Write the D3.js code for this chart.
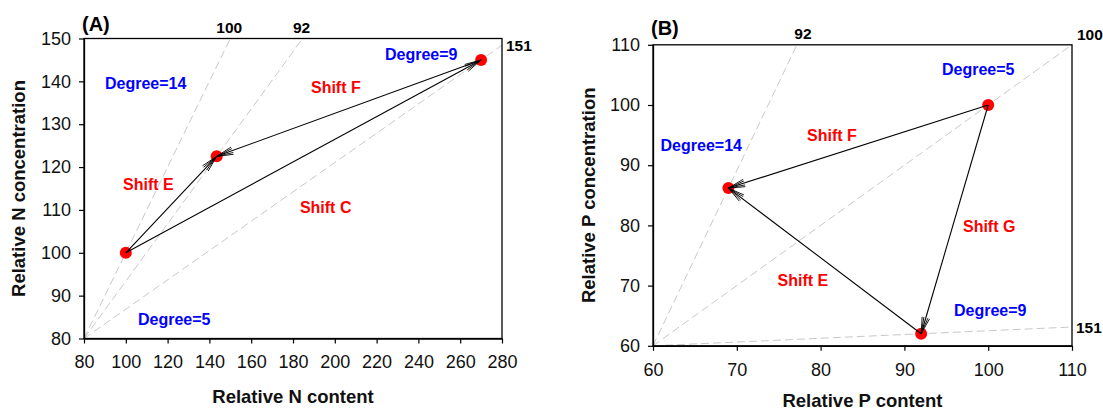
<!DOCTYPE html>
<html>
<head>
<meta charset="utf-8">
<script src="https://cdn.jsdelivr.net/npm/d3@7"></script>
<style>
  html, body { margin: 0; padding: 0; background: #fff; }
  svg { display: block; font-family: "Liberation Sans", Arial, sans-serif; }
</style>
</head>
<body>
<svg id="chart" width="1103" height="411"></svg>
<script>
// ---- Panel A: nitrogen ----
const nContent = [100, 143.5, 270];
const nConcentration = [100, 122.5, 145];
const nGuideLabels = ["100", "92", "151"];          // ratio line through each point
const nDegreeLabels = ["Degree=14", "Degree=9", "Degree=5"];
const nShiftNames = ["Shift E", "Shift F", "Shift C"];
const nShiftFrom = [0, 2, 0];
const nShiftTo = [1, 1, 2];
const nXTicks = [80, 100, 120, 140, 160, 180, 200, 220, 240, 260, 280];
const nYTicks = [80, 90, 100, 110, 120, 130, 140, 150];

// ---- Panel B: phosphorus ----
const pContent = [100, 69, 92];
const pConcentration = [100, 86.2, 62];
const pGuideLabels = ["100", "92", "151"];
const pDegreeLabels = ["Degree=5", "Degree=14", "Degree=9"];
const pShiftNames = ["Shift F", "Shift E", "Shift G"];
const pShiftFrom = [0, 2, 0];
const pShiftTo = [1, 1, 2];
const pXTicks = [60, 70, 80, 90, 100, 110];
const pYTicks = [60, 70, 80, 90, 100, 110];

const svg = d3.select("#chart");

function drawPanel(cfg) {
  const x = d3.scaleLinear().domain(cfg.xDomain).range([cfg.left, cfg.right]);
  const y = d3.scaleLinear().domain(cfg.yDomain).range([cfg.bottom, cfg.top]);
  const g = svg.append("g");

  // ratio guide lines from the lower-left corner through each point
  const x0 = cfg.xDomain[0], y0 = cfg.yDomain[0];
  const x1 = cfg.xDomain[1], y1 = cfg.yDomain[1];
  cfg.px.forEach((px, i) => {
    const py = cfg.py[i];
    const t = Math.min((x1 - x0) / (px - x0), (y1 - y0) / (py - y0));
    const ex = x0 + t * (px - x0), ey = y0 + t * (py - y0);
    g.append("line")
      .attr("x1", x(x0)).attr("y1", y(y0))
      .attr("x2", x(ex)).attr("y2", y(ey))
      .attr("stroke", "#c9c9c9").attr("stroke-width", 1)
      .attr("stroke-dasharray", "8,4");
    const pl = cfg.guidePlace[i];
    const lab = g.append("text")
      .attr("font-weight", "bold").attr("font-size", "15.5px").attr("fill", "#000")
      .text(cfg.guideLabels[i]);
    if (pl.mode === "top") {
      lab.attr("x", x(ex) + pl.dx).attr("y", y(ey) - 6).attr("text-anchor", "middle");
    } else if (pl.mode === "corner") {
      lab.attr("x", x(ex) + 5).attr("y", y(ey) - 5).attr("text-anchor", "start");
    } else {
      lab.attr("x", x(ex) + 4).attr("y", y(ey) + 6).attr("text-anchor", "start");
    }
  });

  // frame
  g.append("rect")
    .attr("x", cfg.left).attr("y", cfg.top)
    .attr("width", cfg.right - cfg.left).attr("height", cfg.bottom - cfg.top)
    .attr("fill", "none").attr("stroke", "#000").attr("stroke-width", 1.3);

  // axes
  const xAxis = d3.axisBottom(x).tickValues(cfg.xTicks).tickSize(5).tickSizeOuter(0).tickPadding(12);
  const yAxis = d3.axisLeft(y).tickValues(cfg.yTicks).tickSize(5).tickSizeOuter(0).tickPadding(8);
  const gx = g.append("g").attr("transform", `translate(0,${cfg.bottom})`).call(xAxis);
  const gy = g.append("g").attr("transform", `translate(${cfg.left},0)`).call(yAxis);
  [gx, gy].forEach(a => {
    a.select(".domain").attr("stroke", "#000").attr("stroke-width", 1.3);
    a.selectAll(".tick line").attr("stroke", "#000").attr("stroke-width", 1.2);
    a.selectAll(".tick text").attr("font-size", "18px").attr("fill", "#111")
      .attr("font-family", "Liberation Sans, Arial, sans-serif");
  });

  // red points
  cfg.px.forEach((px, i) => {
    g.append("circle").attr("cx", x(px)).attr("cy", y(cfg.py[i]))
      .attr("r", 6).attr("fill", "#ff0000");
  });

  // shift arrows with open heads
  cfg.from.forEach((fi, k) => {
    const ti = cfg.to[k];
    const sx = x(cfg.px[fi]), sy = y(cfg.py[fi]);
    const tx = x(cfg.px[ti]), ty = y(cfg.py[ti]);
    g.append("line").attr("x1", sx).attr("y1", sy).attr("x2", tx).attr("y2", ty)
      .attr("stroke", "#000").attr("stroke-width", 1.1);
    const ang = Math.atan2(sy - ty, sx - tx);
    const len = 17;
    [-13, -7, 7, 13].forEach(dDeg => {
      const a = ang + dDeg * Math.PI / 180;
      g.append("line").attr("x1", tx).attr("y1", ty)
        .attr("x2", tx + len * Math.cos(a)).attr("y2", ty + len * Math.sin(a))
        .attr("stroke", "#000").attr("stroke-width", 0.9);
    });
  });

  // region and shift annotations
  cfg.degreeLabels.forEach((t, i) => {
    const p = cfg.degreePos[i];
    g.append("text").attr("x", x(p[0])).attr("y", y(p[1]))
      .attr("font-weight", "bold").attr("font-size", "16px").attr("fill", "#0000ff").text(t);
  });
  cfg.shiftNames.forEach((t, i) => {
    const p = cfg.shiftPos[i];
    g.append("text").attr("x", x(p[0])).attr("y", y(p[1]))
      .attr("font-weight", "bold").attr("font-size", "16px").attr("fill", "#ff0000").text(t);
  });

  // panel tag
  g.append("text").attr("x", cfg.tagX).attr("y", cfg.tagY)
    .attr("font-weight", "bold").attr("font-size", "20px").attr("fill", "#000").text(cfg.tag);

  // axis titles
  g.append("text")
    .attr("x", (cfg.left + cfg.right) / 2).attr("y", cfg.xTitleY)
    .attr("text-anchor", "middle").attr("font-weight", "bold").attr("font-size", "18.5px")
    .attr("fill", "#111").text(cfg.xTitle);
  g.append("text")
    .attr("transform", `translate(${cfg.yTitleX},${(cfg.top + cfg.bottom) / 2}) rotate(-90)`)
    .attr("text-anchor", "middle").attr("font-weight", "bold").attr("font-size", "18.5px")
    .attr("fill", "#111").text(cfg.yTitle);
}

drawPanel({
  left: 84, right: 502, top: 38.5, bottom: 338.5,
  xDomain: [80, 280], yDomain: [80, 150],
  xTicks: nXTicks, yTicks: nYTicks,
  px: nContent, py: nConcentration,
  guideLabels: nGuideLabels,
  guidePlace: [{mode: "top", dx: -1}, {mode: "top", dx: -1}, {mode: "right"}],
  degreeLabels: nDegreeLabels,
  degreePos: [[90.05, 138.2], [224.0, 145.0], [105.8, 83.15]],
  shiftNames: nShiftNames,
  shiftPos: [[98.7, 114.65], [188.6, 137.3], [183.3, 109.3]],
  from: nShiftFrom, to: nShiftTo,
  tag: "(A)", tagX: 82, tagY: 31,
  xTitle: "Relative N content", xTitleY: 403,
  yTitle: "Relative N concentration", yTitleX: 25
});

drawPanel({
  left: 653, right: 1072, top: 44.8, bottom: 345.8,
  xDomain: [60, 110], yDomain: [60, 110],
  xTicks: pXTicks, yTicks: pYTicks,
  px: pContent, py: pConcentration,
  guideLabels: pGuideLabels,
  guidePlace: [{mode: "corner"}, {mode: "top", dx: 6}, {mode: "right"}],
  degreeLabels: pDegreeLabels,
  degreePos: [[94.49, 104.98], [60.9, 92.44], [95.92, 64.95]],
  shiftNames: pShiftNames,
  shiftPos: [[78.38, 94.07], [74.86, 69.93], [96.99, 78.94]],
  from: pShiftFrom, to: pShiftTo,
  tag: "(B)", tagX: 651, tagY: 35,
  xTitle: "Relative P content", xTitleY: 406.5,
  yTitle: "Relative P concentration", yTitleX: 595
});
</script>
</body>
</html>
